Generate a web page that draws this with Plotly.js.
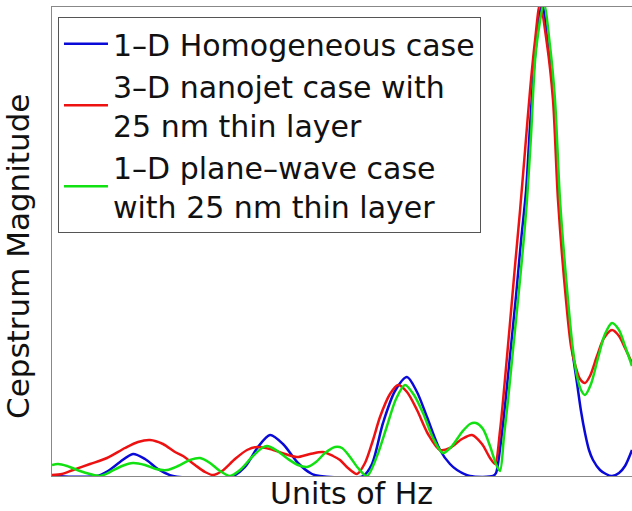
<!DOCTYPE html>
<html>
<head>
<meta charset="utf-8">
<script src="https://cdn.plot.ly/plotly-3.0.1.min.js"></script>
<style>html,body{margin:0;padding:0;background:#fff;overflow:hidden}#chart{width:632px;height:511px}</style>
</head>
<body>
<div id="chart"></div>
<script>
// Series names
const seriesNames = [
  "1–D Homogeneous case",
  "3–D nanojet case with<br>25 nm thin layer",
  "1–D plane–wave case<br>with 25 nm thin layer"
];

// 1-D Homogeneous case
const homogX = [0,45,56,68,81,93,106,121,181,193,206,218,231,246,260,268,311,320,331,343,355,365,375,388,398,405,418,441,444,449,454,459,464,469,474,478,483,490,496,502,507,515,520,525,529,533,537,541,548,554,560,567,573,580];
const homogY = [0,0,5,14,22,17,7,0,0,9,29,41,32,13,2,0,0,12,53,85,99,84,59,26,12,6,0,0,3,35,80,130,180,235,285,350,420,472,430,376,276,176,128,93,65,43,26,16,6,2,0,3,10,26];

// 3-D nanojet case with 25 nm thin layer
const nanojetX = [0,10,21,38,55,73,86,98,111,123,131,143,153,161,170,183,195,205,218,233,245,258,271,281,288,296,305,313,321,328,338,346,355,365,376,388,398,410,420,430,438,443,448,453,458,463,468,473,478,483,488,495,501,506,514,519,524,528,533,538,545,552,560,567,573,580];
const nanojetY = [1,2,6,12,18,28,34,36,32,24,20,11,4,1,5,17,26,29,27,22,19,22,24,20,16,8,2,13,36,59,82,91,84,66,42,26,28,37,41,32,18,12,45,97,153,210,265,325,385,435,472,432,376,276,176,130,108,97,93,100,120,138,146,140,128,113];

// 1-D plane-wave case with 25 nm thin layer
const planeX = [0,6,15,28,38,48,58,70,81,93,104,115,126,138,148,158,168,178,188,200,210,215,224,236,246,255,264,273,283,290,298,306,315,325,335,344,353,362,371,381,391,400,410,418,424,431,438,444,448,452,456,461,466,471,475,479,484,492,498,503,508,516,521,525,529,533,539,546,553,560,567,573,580];
const planeY = [11,12,10,5,2,0,4,10,13,11,7,6,10,16,18,13,5,0,6,19,28,30,26,17,11,9,14,23,29,28,19,8,0,20,50,77,91,81,63,38,23,30,44,52,53,47,30,12,5,40,76,126,176,228,276,340,426,472,430,376,276,176,126,100,86,81,92,118,142,153,146,130,110];

const colors = ["#0a0ad8", "#ee1111", "#11e011"];
const xs = [homogX, nanojetX, planeX];
const ys = [homogY, nanojetY, planeY];

const traces = xs.map((x, i) => ({
  type: "scatter",
  mode: "lines",
  x: x,
  y: ys[i],
  name: seriesNames[i],
  line: {color: colors[i], width: 2.5, shape: "spline", smoothing: 0.8},
  hoverinfo: "skip"
}));

const layout = {
  width: 632,
  height: 511,
  margin: {l: 52, r: 0, t: 7, b: 35, pad: 0},
  paper_bgcolor: "#ffffff",
  plot_bgcolor: "#ffffff",
  font: {family: "DejaVu Sans, Arial, sans-serif", color: "#111111"},
  showlegend: true,
  legend: {
    x: 0.0103, y: 0.979, xanchor: "left", yanchor: "top",
    bgcolor: "#ffffff", bordercolor: "#555555", borderwidth: 1,
    font: {family: "DejaVu Sans", size: 30, color: "#111111"},
    itemwidth: 44,
    tracegroupgap: 0
  },
  xaxis: {
    range: [0, 580],
    showgrid: false, zeroline: false, showticklabels: false, ticks: "",
    showline: true, linecolor: "#888888", linewidth: 1, mirror: true,
    title: {text: "&nbsp;&nbsp;Units of Hz", font: {family: "DejaVu Sans", size: 30, color: "#111111"}, standoff: 22}
  },
  yaxis: {
    range: [0, 469],
    showgrid: false, zeroline: false, showticklabels: false, ticks: "",
    showline: true, linecolor: "#888888", linewidth: 1, mirror: false,
    title: {text: "Cepstrum Magnitude&nbsp;&nbsp;&nbsp;", font: {family: "DejaVu Sans", size: 31, color: "#111111"}, standoff: 17}
  }
};

Plotly.newPlot("chart", traces, layout, {displayModeBar: false, staticPlot: true});
</script>
</body>
</html>
